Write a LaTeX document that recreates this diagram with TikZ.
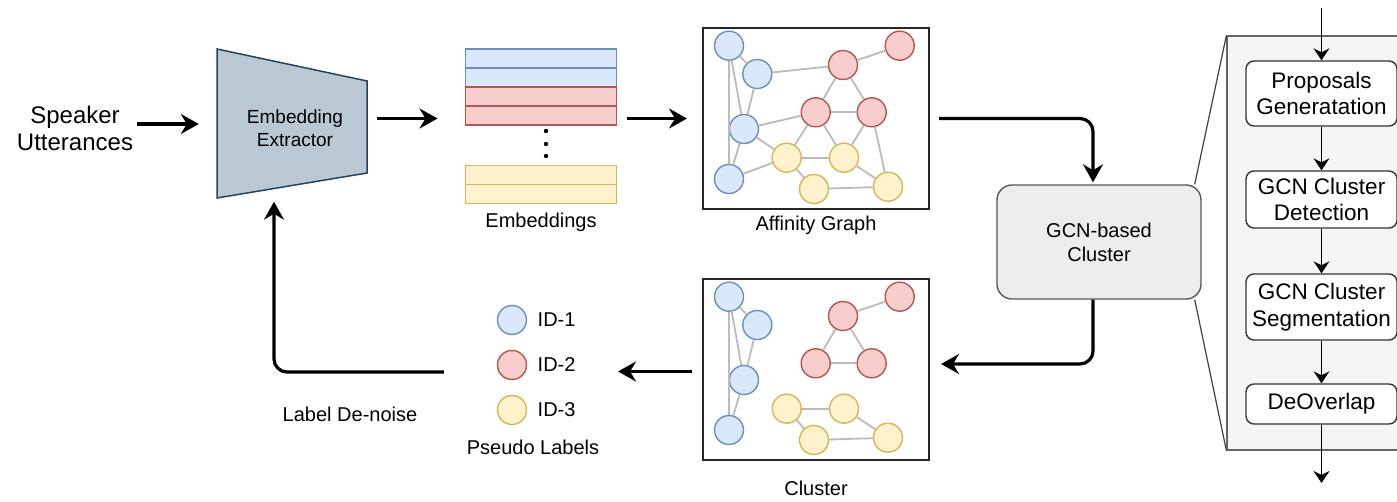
\documentclass[tikz,border=0pt]{standalone}
\usepackage{fontspec}
\setmainfont{Liberation Sans}
\usetikzlibrary{positioning,calc,arrows.meta}
\definecolor{bluefill}{HTML}{DAE8FC}
\definecolor{blueline}{HTML}{6C8EBF}
\definecolor{redfill}{HTML}{F8CECC}
\definecolor{redline}{HTML}{B85450}
\definecolor{yelfill}{HTML}{FFF2CC}
\definecolor{yelline}{HTML}{D6B656}
\definecolor{extfill}{HTML}{BAC8D3}
\definecolor{extline}{HTML}{23445D}
\definecolor{edgegray}{HTML}{BBBBBB}
\tikzset{
  flow/.style={line width=3.2pt, -{Stealth[length=18pt,width=20pt,inset=6pt]}, rounded corners=13pt},
  thinflow/.style={line width=1.4pt, -{Stealth[length=12pt,width=16pt,inset=4pt]}},
  lbl/.style={font=\fontsize{20}{24}\selectfont, align=center},
  gnode/.style={circle, inner sep=0pt, minimum size=29pt, line width=1.4pt, draw=#1line, fill=#1fill},
  gedge/.style={draw=edgegray, line width=1.8pt},
  gbox/.style={draw=black!85, line width=2pt, minimum width=226pt, minimum height=181pt, inner sep=0pt},
  emrow/.style={draw=#1line, fill=#1fill, line width=1.4pt, minimum width=151pt, minimum height=19pt, outer sep=0pt, inner sep=0pt},
  gcnbox/.style={draw=black!65, fill=black!7, line width=1.4pt, rounded corners=15pt, minimum width=204pt, minimum height=114pt, lbl},
  panel/.style={draw=black!60, fill=black!4, line width=1.2pt, minimum width=186pt, minimum height=414pt},
  stage/.style={draw=black!80, fill=white, rounded corners=8pt, line width=1.4pt, minimum width=151pt, align=center, font=\fontsize{22.5}{26.5}\selectfont}
}

\begin{document}
\begin{tikzpicture}[x=1pt,y=-1pt]
  \useasboundingbox (0,0) rectangle (1397,502);

  \node[lbl, font=\fontsize{24}{27}\selectfont] (spk) at (75,128) {Speaker\\Utterances};

  \path[fill=extfill, draw=extline, line width=1.5pt] (217,49) -- (367,81) -- (367,173) -- (217,198) -- cycle;
  \node[minimum width=150pt, minimum height=149pt] (ext) at (292,124) {};
  \node[lbl, font=\fontsize{19}{23.3}\selectfont] (exttext) at (295,128) {Embedding\\Extractor};

  \node[emrow=blue] (e1) at (541,58.5) {};
  \node[emrow=blue, below=0pt of e1] (e2) {};
  \node[emrow=red, below=0pt of e2] (e3) {};
  \node[emrow=red, below=0pt of e3] (e4) {};
  \node[emrow=yel] (e5) at (541,175) {};
  \node[emrow=yel, below=0pt of e5] (e6) {};
  \foreach \y in {131,144,156} \fill (546,\y) circle (2.2pt);
  \node[lbl, below=6pt of e6] (emb) {Embeddings};

  \node[gbox] (affinity) at (816,118.5) {};
  \node[gbox] (cluster) at (816,369.5) {};
  \node[lbl, below=2pt of affinity] (afflabel) {Affinity Graph};
  \node[lbl, below=16pt of cluster] (clulabel) {Cluster};

  \foreach \g in {affinity,cluster} {
    \foreach \n/\dx/\dy/\c in {b1/27/18.7/blue, b2/55.3/47/blue, b3/42/102/blue, b4/27/152/blue,
                              r1/197.7/18.7/red, r2/141/38/red, r3/113.7/85.3/red, r4/169.7/85.3/red,
                              y1/84.7/130.7/yel, y2/142/130.7/yel, y3/112/162/yel, y4/186/159.7/yel}
      \node[gnode=\c] (\g-\n) at ($(\g.north west)+(\dx,\dy)$) {};
    \foreach \a/\b in {b1/b2, b1/b3, b1/b4, b2/b3, b3/b4, r1/r2, r2/r3, r2/r4, r3/r4, y1/y2, y1/y3, y2/y4, y3/y4}
      \draw[gedge] (\g-\a) -- (\g-\b);
  }
  \foreach \a/\b in {b2/r2, b3/r3, b3/y1, b4/y1, r3/y1, r3/y2, r4/y2, r4/y4}
    \draw[gedge] (affinity-\a) -- (affinity-\b);

  \node[gcnbox] (gcn) at (1099,242) {GCN-based\\Cluster};

  \node[panel] (panel) at (1320,243) {};
  \draw[black!75, line width=1.2pt] ([xshift=-7pt]gcn.north east) -- (panel.north west);
  \draw[black!75, line width=1.2pt] ([xshift=-7pt]gcn.south east) -- (panel.south west);
  \node[stage, minimum height=65pt] (s1) at (1321.5,93.5) {Proposals\\Generatation};
  \node[stage, minimum height=57pt] (s2) at (1321.5,199.5) {GCN Cluster\\Detection};
  \node[stage, minimum height=66pt] (s3) at (1321.5,307) {GCN Cluster\\Segmentation};
  \node[stage, minimum height=40pt] (s4) at (1321.5,404) {DeOverlap};
  \coordinate (pin) at (1321.5,8);
  \coordinate (pout) at (1321.5,483);
  \draw[thinflow] (pin) -- (s1);
  \draw[thinflow] (s1) -- (s2);
  \draw[thinflow] (s2) -- (s3);
  \draw[thinflow] (s3) -- (s4);
  \draw[thinflow] (s4) -- (pout);

  \node[gnode=blue] (l1) at (512,320) {};
  \node[gnode=red] (l2) at (512,365) {};
  \node[gnode=yel] (l3) at (512,410) {};
  \node[lbl, right=7pt of l1] (id1) {ID-1};
  \node[lbl, right=7pt of l2] (id2) {ID-2};
  \node[lbl, right=7pt of l3] (id3) {ID-3};
  \node[lbl] (pseudo) at (533,447) {Pseudo Labels};
  \node[lbl] (denoise) at (350,414) {Label De-noise};

  \draw[flow, shorten >=18pt] (spk.east |- ext.west) -- (ext.west);
  \draw[flow, shorten <=10pt, shorten >=28pt] (ext.east |- affinity.west) -- (e1.west |- affinity.west);
  \draw[flow, shorten <=10pt, shorten >=15pt] (e1.east |- affinity.west) -- (affinity.west);
  \draw[flow] ([xshift=9pt]affinity.east) -| ([xshift=-6pt,yshift=2pt]gcn.north);
  \draw[flow] ([xshift=-6pt]gcn.south) |- ([xshift=11pt,yshift=5.5pt]cluster.east);
  \draw[flow, shorten <=10pt, shorten >=39pt] ([yshift=-2pt]cluster.west) -- ([yshift=-2pt]cluster.west -| id2.east);
  \draw[flow] ([xshift=-53pt,yshift=-7pt]l2.west) -| ([xshift=-18pt,yshift=-3pt]ext.south);
\end{tikzpicture}
\end{document}
